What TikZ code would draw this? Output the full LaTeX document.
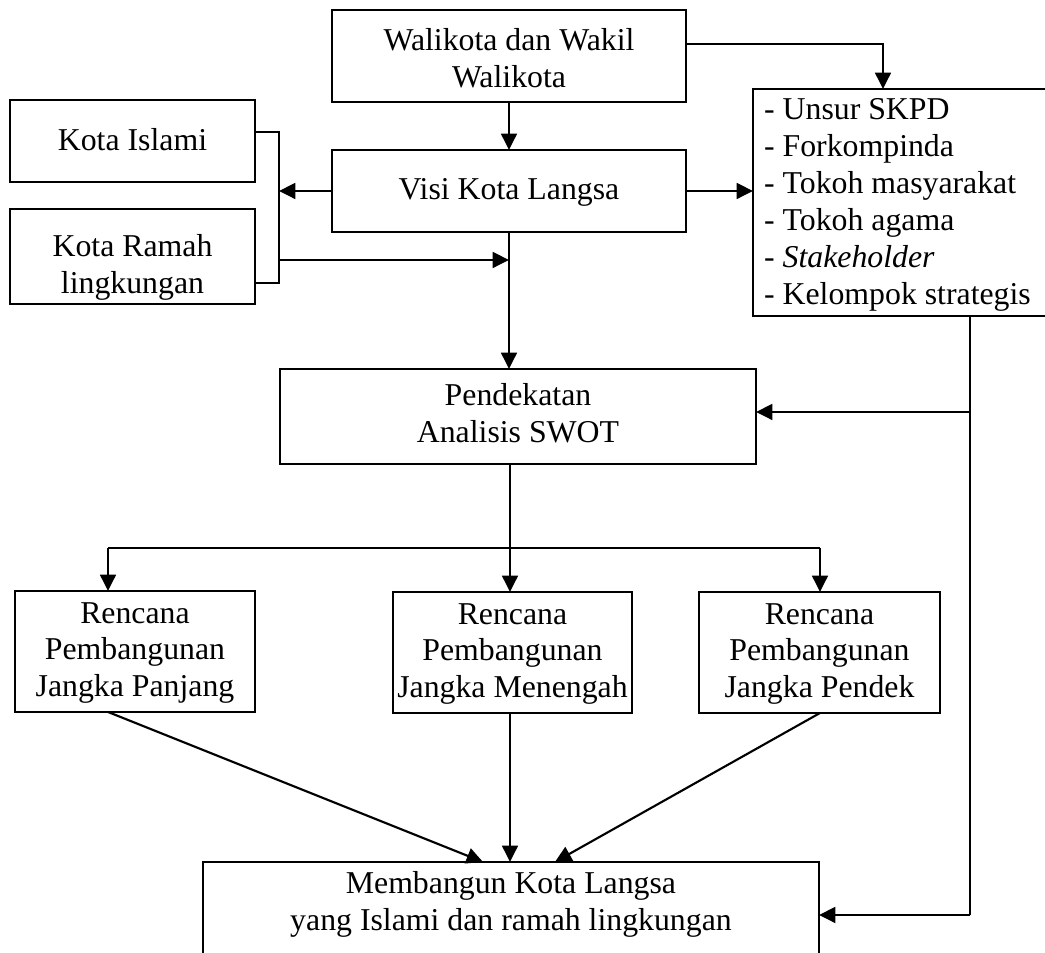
\documentclass[tikz,border=0pt]{standalone}
\usepackage{fontspec}
\setmainfont{Liberation Serif}
\usetikzlibrary{arrows.meta}

% stacked lines of a box, lifted by #2 without changing the box size
\newcommand{\stacktext}[3]{\raisebox{#2}[\height][\depth]{\begin{tabular}{#1}#3\end{tabular}}}

\begin{document}
\begin{tikzpicture}[x=0.3774pt, y=-0.3774pt,
    box/.style={draw, line width=0.8pt, inner sep=0pt, outer sep=0pt,
                font=\fontsize{12}{13.9}\selectfont},
    % box given by its left, top, right and bottom edges
    boxat/.style n args={4}{minimum width={(#3-#1)*0.3774pt},
                            minimum height={(#4-#2)*0.3774pt},
                            at={({(#1+#3)/2},{(#2+#4)/2})}},
    link/.style={line width=0.8pt},
    arr/.style={link, -{Triangle[length=6.2pt,width=6pt]}}]

  \path[use as bounding box, fill=white] (0,0) rectangle (1045,953);

  % boxes
  \node[box, boxat={332}{10}{686}{102}] (wk)
    {\stacktext{@{}c@{}}{-2pt}{Walikota dan Wakil\\Walikota}};
  \node[box, boxat={332}{150}{686}{232}] (visi)
    {\stacktext{@{}c@{}}{-0.5pt}{Visi Kota Langsa}};
  \node[box, boxat={10}{100}{255}{182}] (ki)
    {\stacktext{@{}c@{}}{-0.8pt}{Kota Islami}};
  \node[box, boxat={10}{209}{255}{304}] (kr)
    {\stacktext{@{}c@{}}{-4.2pt}{Kota Ramah\\lingkungan}};
  \node[box, boxat={753}{89}{1052}{316}] (list)
    {\stacktext{@{}l@{\hspace{3.8pt}}}{-0.8pt}{- Unsur SKPD\\- Forkompinda\\- Tokoh masyarakat\\- Tokoh agama\\- \textit{Stakeholder}\\- Kelompok strategis}};
  \node[box, boxat={280}{369}{756}{464}] (pend)
    {\stacktext{@{}c@{}}{-0.2pt}{Pendekatan\\Analisis SWOT}};
  \node[box, boxat={15}{591}{255}{712}] (r1)
    {\stacktext{@{}c@{}}{-0.4pt}{Rencana\\Pembangunan\\Jangka Panjang}};
  \node[box, boxat={393}{592}{632}{713}] (r2)
    {\stacktext{@{}c@{}}{-0.4pt}{Rencana\\Pembangunan\\Jangka Menengah}};
  \node[box, boxat={699}{592}{940}{713}] (r3)
    {\stacktext{@{}c@{}}{-0.4pt}{Rencana\\Pembangunan\\Jangka Pendek}};
  \node[box, boxat={203}{862}{819}{990}] (bot)
    {\stacktext{@{}c@{}}{8pt}{Membangun Kota Langsa\\yang Islami dan ramah lingkungan}};

  % bend points
  \coordinate (wkR) at (883,44);
  \coordinate (brT) at (279,132);
  \coordinate (brM) at (279,260);
  \coordinate (brB) at (279,283);
  \coordinate (railA) at (970,412);
  \coordinate (railB) at (970,915);
  \coordinate (dL) at (108,548);
  \coordinate (dM) at (510,548);
  \coordinate (dR) at (820,548);
  \coordinate (tL) at (483,862);
  \coordinate (tR) at (555,862);

  % top part
  \draw[arr] (wk.south) -- (visi.north);
  \draw[arr] (wk.east |- wkR) -- (wkR) -- (list.north -| wkR);
  \draw[arr] (visi.east) -- (visi.east -| list.west);
  \draw[link] (ki.east |- brT) -- (brT) -- (brB) -- (kr.east |- brB);
  \draw[arr] (visi.west) -- (visi.west -| brT);
  \draw[arr] (brM) -- (brM -| visi.south);
  \draw[arr] (visi.south) -- (visi.south |- pend.north);

  % right rail
  \draw[link] (list.south -| railA) -- (railB);
  \draw[arr] (railA) -- (railA -| pend.east);
  \draw[arr] (railB) -- (railB -| bot.east);

  % distribution to the three plans
  \draw[link] (pend.south -| dM) -- (dM);
  \draw[link] (dL) -- (dR);
  \draw[arr] (dL) -- (r1.north -| dL);
  \draw[arr] (dM) -- (r2.north -| dM);
  \draw[arr] (dR) -- (r3.north -| dR);

  % plans into the goal
  \draw[arr] (r1.south -| dL) -- (bot.north -| tL);
  \draw[arr] (r2.south -| dM) -- (bot.north -| dM);
  \draw[arr] (r3.south -| dR) -- (bot.north -| tR);
\end{tikzpicture}
\end{document}
